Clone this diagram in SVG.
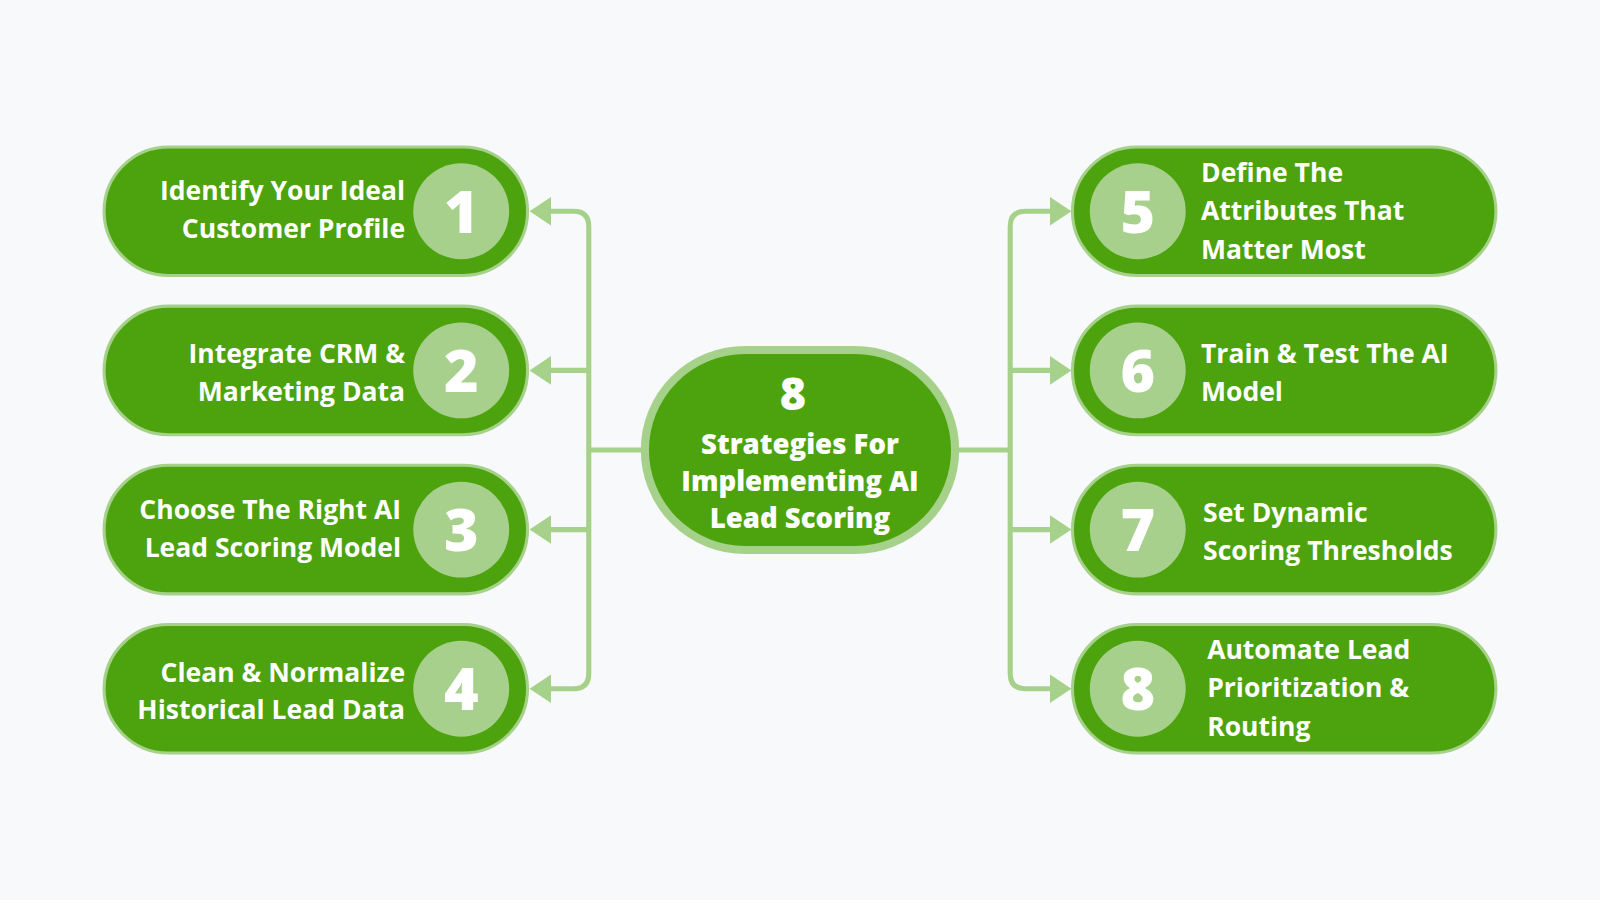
<svg xmlns="http://www.w3.org/2000/svg" width="1600" height="900" viewBox="0 0 1600 900">
<style>
.pill{fill:#4ca30d;stroke:#a5d18a;stroke-width:3}
.num{fill:#a8d08d}
.nt{font-family:"Open Sans",sans-serif;font-weight:800;font-size:58px;fill:#fff;text-anchor:middle}
.t{font-family:"Open Sans",sans-serif;font-weight:700;font-size:26px;fill:#fff}
.r{text-anchor:end}
.c{fill:none;stroke:#a5d18a;stroke-width:5}
.ah{fill:#a5d18a}
</style>
<rect width="1600" height="900" fill="#f8f9fb"/>
<g transform="scale(1.0204)">
<g id="connectors">
<path class="c" d="M540 207 H562 Q577 207 577 222 V660 Q577 675 562 675 H540 M540 363 H577 M540 519 H577 M577 441 H630"/>
<path class="c" d="M938 441 H990 M1030 207 H1005 Q990 207 990 222 V660 Q990 675 1005 675 H1030 M990 363 H1030 M990 519 H1030"/>
<g class="ah">
<path d="M519 207 L540 193 L540 221Z"/><path d="M519 363 L540 349 L540 377Z"/><path d="M519 519 L540 505 L540 533Z"/><path d="M519 675 L540 661 L540 689Z"/>
<path d="M1050 207 L1029 193 L1029 221Z"/><path d="M1050 363 L1029 349 L1029 377Z"/><path d="M1050 519 L1029 505 L1029 533Z"/><path d="M1050 675 L1029 661 L1029 689Z"/>
</g>
</g>
<g id="center"><rect x="632" y="343" width="304" height="196" rx="98" fill="#4ca30d" stroke="#a5d18a" stroke-width="8"/>
<text class="nt" x="777" y="402" style="font-size:44px">8</text>
<text class="t" x="784" y="445" text-anchor="middle" style="font-size:27px;font-weight:800">Strategies For</text>
<text class="t" x="784" y="481" text-anchor="middle" style="font-size:27px;font-weight:800">Implementing AI</text>
<text class="t" x="784" y="517" text-anchor="middle" style="font-size:27px;font-weight:800">Lead Scoring</text></g>
<g id="n1"><rect class="pill" x="102" y="144" width="415" height="126" rx="63"/><circle class="num" cx="452" cy="207" r="47"/><text class="nt" x="452" y="228">1</text>
<text class="t r" x="397" y="196">Identify Your Ideal</text><text class="t r" x="397" y="233">Customer Profile</text></g>
<g id="n2"><rect class="pill" x="102" y="300" width="415" height="126" rx="63"/><circle class="num" cx="452" cy="363" r="47"/><text class="nt" x="452" y="384">2</text>
<text class="t r" x="397" y="356">Integrate CRM &amp;</text><text class="t r" x="397" y="393">Marketing Data</text></g>
<g id="n3"><rect class="pill" x="102" y="456" width="415" height="126" rx="63"/><circle class="num" cx="452" cy="519" r="47"/><text class="nt" x="452" y="540">3</text>
<text class="t r" x="393" y="509">Choose The Right AI</text><text class="t r" x="393" y="546">Lead Scoring Model</text></g>
<g id="n4"><rect class="pill" x="102" y="612" width="415" height="126" rx="63"/><circle class="num" cx="452" cy="675" r="47"/><text class="nt" x="452" y="696">4</text>
<text class="t r" x="397" y="668">Clean &amp; Normalize</text><text class="t r" x="397" y="705">Historical Lead Data</text></g>
<g id="n5"><rect class="pill" x="1051" y="144" width="415" height="126" rx="63"/><circle class="num" cx="1115" cy="207" r="47"/><text class="nt" x="1115" y="228">5</text>
<text class="t" x="1177" y="178">Define The</text><text class="t" x="1177" y="216">Attributes That</text><text class="t" x="1177" y="254">Matter Most</text></g>
<g id="n6"><rect class="pill" x="1051" y="300" width="415" height="126" rx="63"/><circle class="num" cx="1115" cy="363" r="47"/><text class="nt" x="1115" y="384">6</text>
<text class="t" x="1177" y="356">Train &amp; Test The AI</text><text class="t" x="1177" y="393">Model</text></g>
<g id="n7"><rect class="pill" x="1051" y="456" width="415" height="126" rx="63"/><circle class="num" cx="1115" cy="519" r="47"/><text class="nt" x="1115" y="540">7</text>
<text class="t" x="1179" y="512">Set Dynamic</text><text class="t" x="1179" y="549">Scoring Thresholds</text></g>
<g id="n8"><rect class="pill" x="1051" y="612" width="415" height="126" rx="63"/><circle class="num" cx="1115" cy="675" r="47"/><text class="nt" x="1115" y="696">8</text>
<text class="t" x="1183" y="646">Automate Lead</text><text class="t" x="1183" y="683">Prioritization &amp;</text><text class="t" x="1183" y="721">Routing</text></g>
</g>
</svg>
